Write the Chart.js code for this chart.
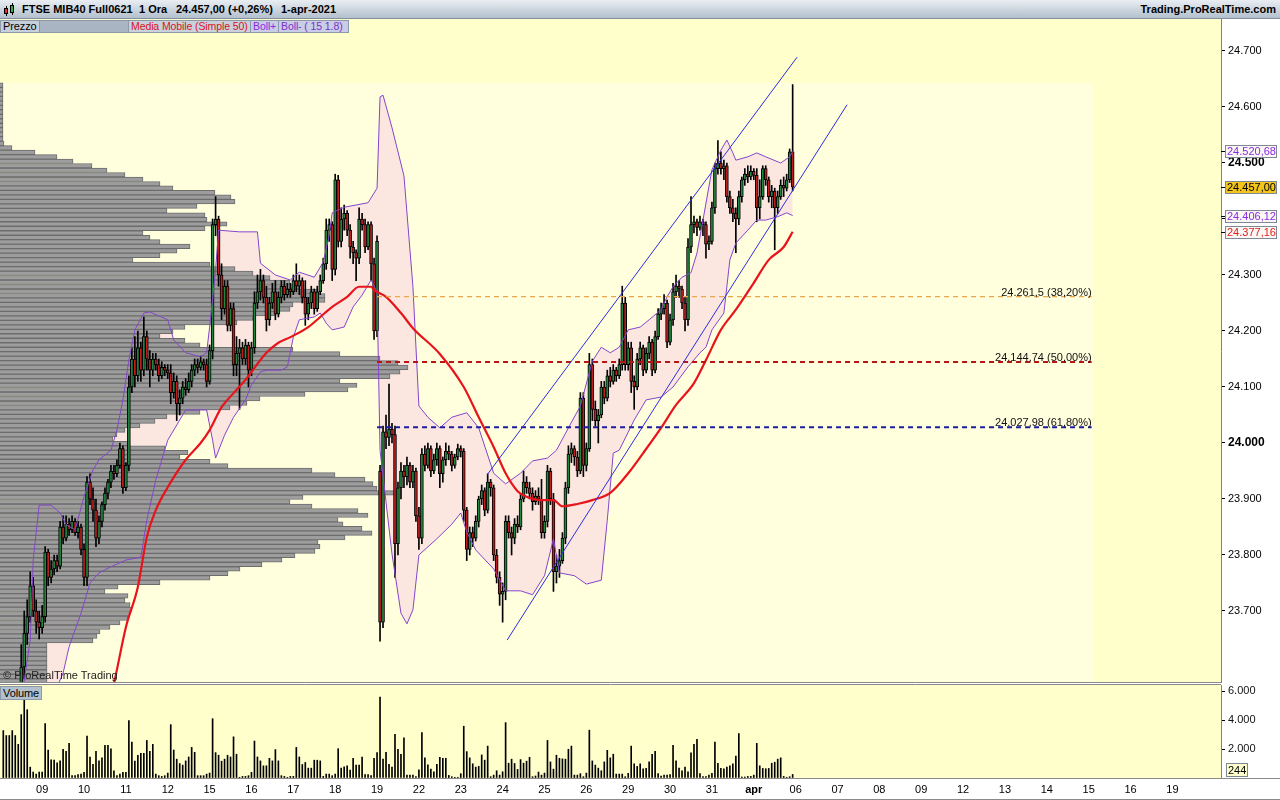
<!DOCTYPE html>
<html>
<head>
<meta charset="utf-8">
<script src="https://cdn.jsdelivr.net/npm/chart.js"></script>
<style>
  body { margin: 0; width: 1280px; height: 800px; position: relative; overflow: hidden; background: #fff;
         font-family: "Liberation Sans", Arial, sans-serif; }
  #top { position: absolute; left: 0; top: 0; width: 1280px; height: 19px; box-sizing: border-box;
         background: linear-gradient(#e9eef3, #b3c0cd); border-bottom: 1px solid #8090a0; z-index: 3; }
  #top span { position: absolute; top: 3px; font-size: 11px; font-weight: bold; color: #000; white-space: nowrap; }
  .ico { position: absolute; width: 1px; background: #000; }
  .icb { position: absolute; width: 4px; border: 1px solid #000; box-sizing: border-box; }
  .lg { position: absolute; top: 20px; height: 13px; box-sizing: border-box; border: 1px solid #8b99a8;
        font-size: 10.5px; line-height: 11px; padding-left: 2px; white-space: nowrap; z-index: 3; letter-spacing: -0.1px; }
  .note { position: absolute; font-size: 11px; color: #222; white-space: nowrap; z-index: 3; }
  canvas { position: absolute; left: 0; }
</style>
</head>
<body>
<div id="top">
  <div class="ico" style="left:6px;top:6px;height:10px"></div>
  <div class="icb" style="left:4px;top:8px;height:6px;background:#e03030"></div>
  <div class="ico" style="left:12px;top:3px;height:12px"></div>
  <div class="icb" style="left:10px;top:5px;height:8px;background:#30b040"></div>
  <span style="left:22px">FTSE MIB40 Full0621</span>
  <span style="left:139px">1 Ora</span>
  <span style="left:176px">24.457,00 (+0,26%)</span>
  <span style="left:281px">1-apr-2021</span>
  <span style="right:4px">Trading.ProRealTime.com</span>
</div>
<div class="lg" style="left:0;width:40px;background:#c6d0db;font-size:11px">Prezzo</div>
<div class="lg" style="left:39px;width:90px;background:#a9b5c2"></div>
<div class="lg" style="left:128px;width:123px;background:#c9d1dd;color:#d8141c">Media Mobile (Simple 50)</div>
<div class="lg" style="left:250px;width:29px;background:#c9cde6;color:#8a2be2">Boll+</div>
<div class="lg" style="left:278px;width:71px;background:#c9cde6;color:#7a32c8">Boll- ( 15 1.8)</div>
<div class="note" style="left:3px;top:669px">© ProRealTime Trading</div>
<div class="lg" style="left:0;top:686px;width:42px;height:14px;background:#b3c0cd;line-height:12px;font-size:11px">Volume</div>

<canvas id="pc" width="1280" height="664" style="top:19px;width:1280px;height:664px"></canvas>
<canvas id="vc" width="1280" height="116" style="top:684px;width:1280px;height:116px"></canvas>

<script>
const FONT = '"Liberation Sans", Arial, sans-serif';

// ---- hourly candles, 14 bars a day (8 Mar .. 1 Apr, the last day has 13) ----
const open = [
  23470,23480,23500,23470,23520,23510,23545,23600,23660,23690,23745,23700,23680,23670,
  23690,23805,23760,23775,23790,23780,23850,23830,23855,23845,23860,23840,23850,23810,
  23760,23930,23900,23880,23830,23860,23890,23910,23930,23950,23945,23960,23990,23920,
  23960,24100,24150,24120,24170,24130,24190,24150,24130,24150,24140,24120,24135,24130,
  24125,24090,24110,24070,24080,24100,24095,24110,24130,24140,24135,24145,24140,24110,
  24165,24390,24400,24300,24240,24280,24210,24240,24140,24160,24170,24150,24175,24130,
  24170,24250,24270,24290,24260,24220,24250,24270,24230,24260,24280,24265,24275,24270,
  24290,24280,24290,24260,24230,24250,24270,24240,24270,24290,24320,24380,24390,24310,
  24470,24360,24400,24410,24380,24350,24340,24330,24400,24390,24350,24390,24320,24200,
  23950,23680,24020,24010,24025,24015,23820,23920,23950,23940,23960,23930,23950,23870,
  23830,23980,23960,23990,23950,23970,23990,23945,23970,23985,23980,23960,23975,23990,
  23985,23880,23810,23840,23830,23860,23900,23915,23880,23930,23920,23800,23760,23730,
  23735,23860,23840,23830,23855,23850,23900,23930,23920,23910,23895,23905,23900,23840,
  23860,23950,23900,23770,23780,23790,23830,23920,23980,23990,23975,23950,24080,23960,
  23990,24140,24060,24040,24050,24100,24080,24120,24110,24130,24120,24140,24250,24140,
  24170,24110,24100,24150,24170,24130,24160,24180,24130,24190,24230,24240,24250,24180,
  24220,24270,24280,24275,24250,24220,24350,24390,24395,24385,24395,24390,24355,24360,
  24420,24490,24500,24490,24495,24440,24420,24410,24400,24440,24470,24480,24475,24485,
  24478,24420,24440,24490,24470,24440,24450,24420,24440,24460,24455,24470,24520
];
const high = [
  23500,23520,23510,23530,23540,23570,23640,23700,23720,23770,23760,23720,23700,23710,
  23815,23810,23790,23800,23800,23860,23870,23870,23865,23870,23865,23860,23855,23820,
  23940,23945,23920,23900,23870,23895,23920,23935,23960,23960,23970,24000,23995,23965,
  24120,24170,24190,24200,24180,24225,24200,24165,24160,24160,24150,24145,24140,24140,
  24140,24125,24120,24095,24110,24115,24125,24140,24150,24150,24155,24150,24150,24175,
  24400,24440,24405,24320,24290,24290,24250,24250,24190,24185,24180,24185,24180,24180,
  24270,24300,24310,24300,24280,24260,24285,24290,24270,24290,24290,24285,24285,24300,
  24320,24300,24295,24290,24260,24280,24275,24280,24300,24330,24400,24400,24395,24480,
  24478,24420,24425,24415,24390,24360,24345,24420,24410,24400,24395,24395,24330,24370,
  23960,24030,24050,24105,24035,24030,23930,23965,23960,23975,23965,23960,23955,23885,
  23990,23995,24000,23995,23980,24000,23995,23975,24000,23995,23985,23980,23998,23995,
  23990,23885,23850,23850,23870,23905,23925,23920,23945,23935,23925,23810,23770,23750,
  23870,23870,23850,23865,23870,23910,23950,23940,23930,23920,23915,23920,23935,23870,
  23960,23955,23910,23800,23810,23840,23930,23995,24000,23995,23985,24090,24090,24000,
  24160,24150,24075,24060,24110,24110,24130,24135,24140,24135,24150,24280,24260,24180,
  24180,24120,24160,24180,24175,24170,24190,24185,24200,24240,24250,24265,24255,24230,
  24285,24300,24290,24280,24260,24365,24440,24405,24400,24405,24400,24395,24370,24430,
  24500,24540,24520,24505,24500,24450,24435,24420,24450,24475,24490,24495,24495,24490,
  24490,24470,24495,24495,24475,24460,24455,24450,24470,24475,24480,24525,24640
];
const low = [
  23440,23470,23450,23460,23490,23500,23540,23580,23640,23680,23690,23660,23650,23660,
  23680,23745,23750,23765,23770,23775,23820,23825,23835,23840,23835,23830,23800,23745,
  23745,23890,23860,23815,23820,23850,23880,23900,23920,23935,23940,23955,23910,23915,
  23950,24090,24100,24110,24110,24120,24130,24100,24120,24130,24110,24115,24120,24115,
  24070,24080,24040,24050,24070,24085,24090,24100,24120,24125,24130,24130,24100,24105,
  24150,24370,24280,24220,24230,24200,24200,24120,24120,24060,24140,24140,24100,24120,
  24160,24240,24255,24250,24200,24210,24240,24220,24225,24250,24255,24260,24260,24265,
  24270,24265,24250,24210,24220,24240,24230,24235,24265,24285,24310,24360,24290,24300,
  24350,24350,24380,24370,24330,24320,24290,24320,24380,24340,24345,24290,24185,24190,
  23646,23670,23990,23995,24000,23760,23800,23900,23920,23925,23920,23920,23860,23810,
  23820,23950,23955,23940,23945,23960,23920,23930,23960,23970,23950,23955,23970,23975,
  23860,23790,23800,23815,23825,23850,23890,23870,23875,23905,23790,23750,23710,23680,
  23720,23830,23800,23820,23840,23845,23895,23910,23900,23880,23890,23890,23830,23830,
  23850,23890,23735,23750,23760,23785,23820,23910,23965,23960,23940,23945,23940,23950,
  23985,24040,24030,24000,24045,24070,24075,24100,24105,24110,24115,24130,24130,24130,
  24090,24060,24095,24140,24120,24125,24150,24120,24125,24185,24220,24230,24170,24175,
  24210,24260,24260,24240,24200,24210,24340,24375,24370,24380,24370,24330,24345,24355,
  24410,24480,24480,24470,24430,24410,24395,24340,24390,24430,24460,24465,24470,24470,
  24395,24400,24435,24460,24430,24420,24345,24410,24435,24440,24450,24465,24450
];
const close = [
  23480,23500,23470,23520,23510,23545,23600,23660,23690,23745,23700,23680,23670,23690,
  23805,23760,23775,23790,23780,23850,23830,23855,23845,23860,23840,23850,23810,23760,
  23930,23900,23880,23830,23860,23890,23910,23930,23950,23945,23960,23990,23920,23960,
  24100,24150,24120,24170,24130,24190,24150,24130,24150,24140,24120,24135,24130,24125,
  24090,24110,24070,24080,24100,24095,24110,24130,24140,24135,24145,24140,24110,24165,
  24390,24400,24300,24240,24280,24210,24240,24140,24160,24170,24150,24175,24130,24170,
  24250,24270,24290,24260,24220,24250,24270,24230,24260,24280,24265,24275,24270,24290,
  24280,24290,24260,24230,24250,24270,24240,24270,24290,24320,24380,24390,24310,24470,
  24360,24400,24410,24380,24350,24340,24330,24400,24390,24350,24390,24320,24200,24360,
  23680,24020,24010,24025,24015,23820,23920,23950,23940,23960,23930,23950,23870,23830,
  23980,23960,23990,23950,23970,23990,23945,23970,23985,23980,23960,23975,23990,23985,
  23880,23810,23840,23830,23860,23900,23915,23880,23930,23920,23800,23760,23730,23735,
  23860,23840,23830,23855,23850,23900,23930,23920,23910,23895,23905,23900,23840,23860,
  23950,23900,23770,23780,23790,23830,23920,23980,23990,23975,23950,24080,23960,23990,
  24140,24060,24040,24050,24100,24080,24120,24110,24130,24120,24140,24250,24140,24170,
  24110,24100,24150,24170,24130,24160,24180,24130,24190,24230,24240,24250,24180,24220,
  24270,24280,24275,24250,24220,24350,24390,24395,24385,24395,24390,24355,24360,24420,
  24490,24500,24490,24495,24440,24420,24410,24400,24440,24470,24480,24475,24485,24478,
  24420,24440,24490,24470,24440,24450,24420,24440,24460,24455,24470,24520,24457
];
const volume = [
  3270,2930,2930,3270,2930,2320,4370,5390,4710,750,410,270,410,410,
  3750,1930,1250,1230,1050,1180,1980,1840,2390,160,160,230,270,390,
  2890,1450,950,1840,1180,1390,2250,2250,2020,500,160,270,390,390,
  3960,2480,1160,1570,1700,1700,2590,1840,2320,270,160,110,160,340,
  3680,1930,1300,1000,890,1180,1450,2110,1770,160,160,160,270,340,
  4090,1750,1570,1160,1300,1570,1450,2840,1640,50,110,110,160,390,
  2550,1450,1180,840,840,1360,1180,1960,1180,160,110,50,110,110,
  2110,1450,930,1070,680,680,1230,1230,1180,110,270,270,160,270,
  2020,680,770,840,550,1360,890,890,1450,230,230,160,1360,1750,
  5580,1300,1770,950,750,3020,1980,1640,2770,200,200,200,90,570,
  3140,1390,910,610,430,950,1430,1360,1360,180,90,50,50,300,
  3570,1820,1390,980,750,800,1590,1230,2200,90,200,500,200,430,
  3820,1020,1300,1000,590,1270,1020,1160,1430,90,140,410,200,340,
  2590,1110,610,1570,1360,1320,1300,1980,2200,200,200,300,90,340,
  3300,1180,890,680,500,1110,1910,1390,1640,270,270,270,90,320,
  2200,980,800,980,640,660,1110,1640,1840,300,140,200,200,230,
  2250,1180,680,500,750,430,1730,2320,2660,300,90,90,200,320,
  2480,1020,660,640,750,840,980,1520,3070,70,70,110,110,200,
  2390,840,660,640,660,1020,1090,1300,1390,110,50,90,244
];

// ---- indicators: [bar, value] ----
const bbUpper = [
  [6,23540],[9,23648],[10,23791],[12,23889],[16,23889],[19,23875],[21,23854],[24,23845],[27,23904],
  [30,23952],[32,23970],[36,23987],[38,24023],[40,24077],[42,24148],[44,24202],[47,24232],[49,24234],
  [52,24227],[55,24220],[57,24184],[61,24161],[66,24154],[68,24161],[69,24207],[71,24309],[72,24380],
  [79,24377],[85,24377],[86,24321],[91,24300],[96,24291],[99,24305],[104,24296],[107,24323],[109,24371],
  [110,24411],[114,24421],[118,24425],[122,24429],[125,24455],[126,24618],[127,24621],[130,24563],
  [134,24477],[137,24279],[139,24066],[142,24046],[146,24027],[150,24046],[155,24054],[159,24027],
  [164,23946],[168,23927],[173,23946],[177,23968],[182,23973],[185,23987],[189,24027],[193,24066],
  [197,24146],[200,24171],[203,24161],[206,24171],[209,24202],[213,24207],[216,24220],[220,24238],
  [222,24261],[224,24279],[227,24296],[230,24304],[232,24339],[234,24398],[237,24488],[240,24523],
  [242,24541],[244,24518],[245,24505],[249,24511],[252,24518],[255,24511],[260,24500],[263,24511],
  [264,24520.68]
];
const bbLower = [
  [6,23380],[16,23541],[20,23589],[22,23636],[26,23696],[29,23750],[32,23768],[36,23779],[41,23791],
  [46,23796],[48,23862],[51,23934],[55,24005],[61,24059],[68,24059],[70,24005],[71,23973],[74,24014],
  [77,24046],[81,24077],[83,24104],[86,24127],[88,24130],[93,24130],[95,24136],[97,24189],[99,24220],
  [104,24225],[106,24232],[108,24214],[110,24202],[114,24207],[117,24243],[120,24264],[123,24291],
  [125,24270],[126,23987],[130,23802],[133,23696],[135,23677],[137,23702],[139,23800],[145,23829],
  [150,23855],[153,23875],[155,23841],[158,23809],[164,23775],[168,23736],[173,23736],[177,23729],
  [181,23763],[184,23829],[186,23768],[191,23763],[195,23748],[200,23755],[202,23862],[204,23982],
  [206,23987],[211,24041],[215,24077],[220,24082],[224,24100],[229,24136],[233,24161],[235,24171],
  [237,24202],[241,24232],[243,24327],[245,24357],[249,24380],[252,24398],[255,24398],[259,24404],
  [262,24411],[264,24406.12]
];
const ma50 = [
  [34,23514],[37,23571],[41,23671],[45,23743],[48,23832],[51,23880],[55,23921],[61,23970],[66,24000],
  [69,24023],[73,24064],[77,24089],[81,24113],[88,24161],[92,24179],[96,24189],[102,24207],[106,24225],
  [110,24243],[115,24261],[119,24279],[123,24279],[124,24273],[128,24261],[133,24232],[137,24205],
  [146,24159],[154,24100],[159,24046],[164,23993],[168,23946],[172,23914],[175,23904],[180,23898],
  [184,23898],[187,23887],[192,23891],[197,23898],[203,23911],[209,23946],[214,23982],[220,24027],
  [225,24068],[231,24107],[235,24148],[240,24202],[245,24238],[251,24286],[256,24327],[261,24350],
  [264,24377.16]
];

// channel lines and Fibonacci retracement
const channelUpper = [[161.8, 23943], [265.5, 24689]];
const channelLower = [[168.5, 23648], [282.2, 24604]];
const fibLevels = [24261.5, 24144.74, 24027.98];
const fibPercent = [38.2, 50, 61.8];
const fibFrom = 125, fibTo = 364;

// volume profile (price bin, traded volume)
const profPrice = [
  23575,23583,23591,23599,23607,23615,23623,23631,23639,23647,23655,23663,23671,23679,23687,23695,
  23703,23711,23719,23727,23735,23743,23751,23759,23767,23775,23783,23791,23799,23807,23815,23823,
  23831,23839,23847,23855,23863,23871,23879,23887,23895,23903,23911,23919,23927,23935,23943,23951,
  23959,23967,23975,23983,23991,23999,24007,24015,24023,24031,24039,24047,24055,24063,24071,24079,
  24087,24095,24103,24111,24119,24127,24135,24143,24151,24159,24167,24175,24183,24191,24199,24207,
  24215,24223,24231,24239,24247,24255,24263,24271,24279,24287,24295,24303,24311,24319,24327,24335,
  24343,24351,24359,24367,24375,24383,24391,24399,24407,24415,24423,24431,24439,24447,24455,24463,
  24471,24479,24487,24495,24503,24511,24519,24527,24535,24543,24551,24559,24567,24575,24583,24591,
  24599,24607,24615,24623,24631,24639
];
const profVolume = [
  47,47,47,47,47,47,47,47,47,93,97,100,110,120,128,130,
  132,130,125,128,105,118,160,210,228,240,262,282,295,315,320,318,
  345,372,362,343,338,368,358,312,290,303,395,377,373,365,335,312,
  228,210,180,188,165,130,113,117,125,140,155,167,200,230,247,260,
  305,348,357,340,390,400,408,398,380,340,293,200,185,160,173,185,
  237,253,275,290,293,325,325,318,300,290,270,253,235,210,133,160,
  177,190,160,150,143,205,227,207,205,167,197,235,231,215,173,160,
  143,125,107,92,73,57,35,12,4,3,3,3,3,3,3,3,
  3,3,3,3,3,3
];

// axes
const priceTicks = [23700, 23800, 23900, 24000, 24100, 24200, 24300, 24400, 24500, 24600, 24700];
const volumeTicks = [0, 1000, 2000, 3000, 4000, 5000, 6000];
const dayLabels = ['09','10','11','12','15','16','17','18','19','22','23','24','25','26','29','30','31','apr',
                   '06','07','08','09','12','13','14','15','16','19'];
const dayTickBar = [13,27,41,55,69,83,97,111,125,139,153,167,181,195,209,223,237,251,265,279,293,307,321,335,349,363,377,391];

const xMin = -1.104, xMax = 407.26;
const priceMin = 23571.4, priceMax = 24757.1;

// ---- helpers ----
const thousands = s => s.replace(/\B(?=(\d{3})+(?!\d))/g, '.');
const fmt = (v, d) => { const [i, f] = v.toFixed(d).split('.'); return thousands(i) + (f ? ',' + f : ''); };
const decimals = v => (String(v).split('.')[1] || '').length;
const pts = arr => arr.map(([x, y]) => ({x, y}));
const GREEN = '#21873d', RED = '#c01e1e';

function tag(ctx, y, text, fg, bg) {
  const yy = Math.round(y);
  ctx.save();
  ctx.strokeStyle = '#000'; ctx.lineWidth = 1;
  ctx.beginPath(); ctx.moveTo(1221, yy + 0.5); ctx.lineTo(1226, yy + 0.5); ctx.stroke();
  ctx.fillStyle = bg; ctx.fillRect(1225, yy - 6, 52, 13);
  ctx.strokeStyle = '#7d8894'; ctx.strokeRect(1225.5, yy - 5.5, 51, 12);
  ctx.fillStyle = fg; ctx.font = '11px ' + FONT; ctx.textBaseline = 'middle'; ctx.textAlign = 'left';
  ctx.fillText(text, 1227, yy + 1);
  ctx.restore();
}

const priceDecor = {
  id: 'priceDecor',
  beforeDraw(chart) {
    const {ctx, chartArea: a, scales: {x, y}} = chart;
    ctx.save();
    ctx.fillStyle = '#fff'; ctx.fillRect(0, 0, chart.width, chart.height);
    ctx.fillStyle = '#ffffcc'; ctx.fillRect(a.left, a.top, a.right - a.left, a.bottom - a.top);
    const rx = x.getPixelForValue(fibTo + 0.5);
    const ry = y.getPixelForValue(profPrice[profPrice.length - 1] + 4);
    ctx.fillStyle = '#ffffde'; ctx.fillRect(a.left, ry, rx - a.left, a.bottom - ry);
    ctx.restore();
  },
  afterDatasetsDraw(chart) {
    const {ctx, scales: {x, y}} = chart;
    ctx.save();
    ctx.font = '11px ' + FONT; ctx.fillStyle = '#111'; ctx.textAlign = 'right'; ctx.textBaseline = 'alphabetic';
    fibLevels.forEach((lv, i) => {
      const txt = fmt(lv, decimals(lv)) + ' (' + fmt(fibPercent[i], 2) + '%)';
      ctx.fillText(txt, x.getPixelForValue(fibTo), y.getPixelForValue(lv) - 1);
    });
    ctx.restore();
  },
  afterDraw(chart) {
    const {ctx, chartArea: a, scales: {y}} = chart;
    ctx.save();
    ctx.strokeStyle = '#8a8a8a'; ctx.lineWidth = 1;
    ctx.beginPath(); ctx.moveTo(a.left, a.bottom - 0.5); ctx.lineTo(a.right, a.bottom - 0.5); ctx.stroke();
    ctx.restore();
    const last = close.length - 1;
    const up = bbUpper[bbUpper.length - 1][1], dn = bbLower[bbLower.length - 1][1], ma = ma50[ma50.length - 1][1];
    tag(ctx, y.getPixelForValue(up), fmt(up, 2), '#8a2be2', '#fbf7f4');
    tag(ctx, y.getPixelForValue(close[last]), fmt(close[last], 2), '#000', '#f2c41c');
    tag(ctx, y.getPixelForValue(dn), fmt(dn, 2), '#8a2be2', '#fbf7f4');
    tag(ctx, y.getPixelForValue(ma), fmt(ma, 2), '#e0201c', '#fbf7f4');
  }
};

const fibStyle = [
  {color: '#eba64a', width: 1.3},
  {color: '#b81414', width: 2},
  {color: '#1c1ca0', width: 2}
];

new Chart(document.getElementById('pc'), {
  type: 'bar',
  data: {
    datasets: [
      {type: 'line', data: pts(channelUpper), borderColor: '#2d2de0', borderWidth: 1, pointRadius: 0, order: 0},
      {type: 'line', data: pts(channelLower), borderColor: '#2d2de0', borderWidth: 1, pointRadius: 0, order: 0},
      ...fibLevels.map((lv, i) => ({
        type: 'line', data: [{x: fibFrom, y: lv}, {x: fibTo, y: lv}],
        borderColor: fibStyle[i].color, borderWidth: fibStyle[i].width, borderDash: [5, 4], pointRadius: 0, order: 1
      })),
      {type: 'line', data: pts(ma50), borderColor: '#e8141c', borderWidth: 2.2, pointRadius: 0,
       cubicInterpolationMode: 'monotone', order: 2},
      {type: 'line', data: pts(bbUpper), borderColor: '#8545cc', borderWidth: 1, pointRadius: 0, tension: 0,
       fill: '+1', backgroundColor: '#fce7e0', order: 3},
      {type: 'line', data: pts(bbLower), borderColor: '#8545cc', borderWidth: 1, pointRadius: 0, tension: 0, order: 3},
      {type: 'bar', data: close.map((c, i) => ({x: i, y: [open[i], c]})),
       backgroundColor: c => close[c.dataIndex] >= open[c.dataIndex] ? GREEN : RED,
       borderColor: '#000', borderWidth: 1, borderSkipped: false, barThickness: 3, minBarLength: 1,
       grouped: false, order: 4},
      {type: 'bar', data: close.map((c, i) => ({x: i, y: [low[i], high[i]]})),
       backgroundColor: '#000', barThickness: 1, grouped: false, order: 5},
      {type: 'bar', indexAxis: 'y', xAxisID: 'xp', yAxisID: 'y',
       data: profPrice.map((p, i) => ({x: profVolume[i], y: p})),
       backgroundColor: '#9d9d9d', borderColor: '#6c6c6c', borderWidth: 1, barThickness: 4.48,
       grouped: false, order: 6}
    ]
  },
  options: {
    responsive: false, animation: false, events: [],
    layout: {padding: 0},
    plugins: {legend: {display: false}, tooltip: {enabled: false}, filler: {drawTime: 'beforeDatasetsDraw'}},
    scales: {
      x: {type: 'linear', display: false, min: xMin, max: xMax, offset: false},
      xp: {type: 'linear', axis: 'x', display: false, min: 0, max: 1221, offset: false},
      y: {
        type: 'linear', position: 'right', min: priceMin, max: priceMax, offset: false,
        afterBuildTicks: s => { s.ticks = priceTicks.map(v => ({value: v})); },
        afterFit: s => { s.width = 59; s.paddingTop = 0; s.paddingBottom = 0; },
        grid: {drawOnChartArea: false, tickLength: 4, color: '#000', offset: false},
        border: {color: '#808080'},
        ticks: {
          padding: 3, color: '#000', callback: v => thousands(String(v)),
          font: c => {
            const b = c.tick && c.tick.value % 500 === 0;
            return {family: FONT, size: b ? 12 : 11, weight: b ? 'bold' : 'normal'};
          }
        }
      }
    }
  },
  plugins: [priceDecor]
});

const volumeDecor = {
  id: 'volumeDecor',
  beforeDraw(chart) {
    const {ctx, chartArea: a} = chart;
    ctx.save();
    ctx.fillStyle = '#fff'; ctx.fillRect(0, 0, chart.width, chart.height);
    ctx.fillStyle = '#ffffcc'; ctx.fillRect(a.left, a.top, a.right - a.left, a.bottom - a.top);
    ctx.restore();
  },
  afterDraw(chart) {
    const {ctx, chartArea: a, scales: {y}} = chart;
    ctx.save();
    ctx.strokeStyle = '#8a8a8a'; ctx.lineWidth = 1;
    ctx.beginPath();
    ctx.moveTo(a.left, a.top - 0.5); ctx.lineTo(a.right, a.top - 0.5);
    ctx.moveTo(0, a.bottom + 0.5); ctx.lineTo(chart.width, a.bottom + 0.5);
    ctx.moveTo(0, chart.height - 0.5); ctx.lineTo(chart.width, chart.height - 0.5);
    ctx.stroke();
    const v = volume[volume.length - 1];
    const yy = Math.round(y.getPixelForValue(v)) - 4;
    ctx.fillStyle = '#ffffcc'; ctx.fillRect(1226, yy - 7, 22, 14);
    ctx.strokeStyle = '#7d8894'; ctx.strokeRect(1226.5, yy - 6.5, 21, 13);
    ctx.fillStyle = '#000'; ctx.font = '11px ' + FONT; ctx.textBaseline = 'middle';
    ctx.fillText(String(v), 1228, yy + 1);
    ctx.restore();
  }
};

new Chart(document.getElementById('vc'), {
  type: 'bar',
  data: {
    datasets: [{data: volume.map((v, i) => ({x: i, y: v})), backgroundColor: '#000', barThickness: 1, grouped: false}]
  },
  options: {
    responsive: false, animation: false, events: [],
    layout: {padding: {top: 1, left: 0, right: 0, bottom: 0}},
    plugins: {legend: {display: false}, tooltip: {enabled: false}},
    scales: {
      x: {
        type: 'linear', min: xMin, max: xMax, offset: false,
        afterBuildTicks: s => { s.ticks = dayTickBar.map(v => ({value: v})); },
        afterFit: s => { s.height = 22; s.paddingLeft = 0; s.paddingRight = 0; },
        grid: {display: false, drawTicks: false, tickLength: 0}, border: {display: false},
        ticks: {
          autoSkip: false, maxRotation: 0, minRotation: 0, padding: 5, color: '#000',
          callback: (v, i) => dayLabels[i],
          font: c => ({family: FONT, size: 11, weight: dayLabels[c.index] === 'apr' ? 'bold' : 'normal'})
        }
      },
      y: {
        type: 'linear', position: 'right', min: 0, max: 6414, offset: false,
        afterBuildTicks: s => { s.ticks = volumeTicks.map(v => ({value: v})); },
        afterFit: s => { s.width = 59; s.paddingTop = 0; s.paddingBottom = 0; },
        grid: {drawOnChartArea: false, tickLength: 4, color: '#000'},
        border: {color: '#808080'},
        ticks: {
          padding: 3, color: '#111', font: {family: FONT, size: 11},
          callback: v => (v > 0 && v % 2000 === 0) ? thousands(String(v)) : ''
        }
      }
    }
  },
  plugins: [volumeDecor]
});
</script>
</body>
</html>
